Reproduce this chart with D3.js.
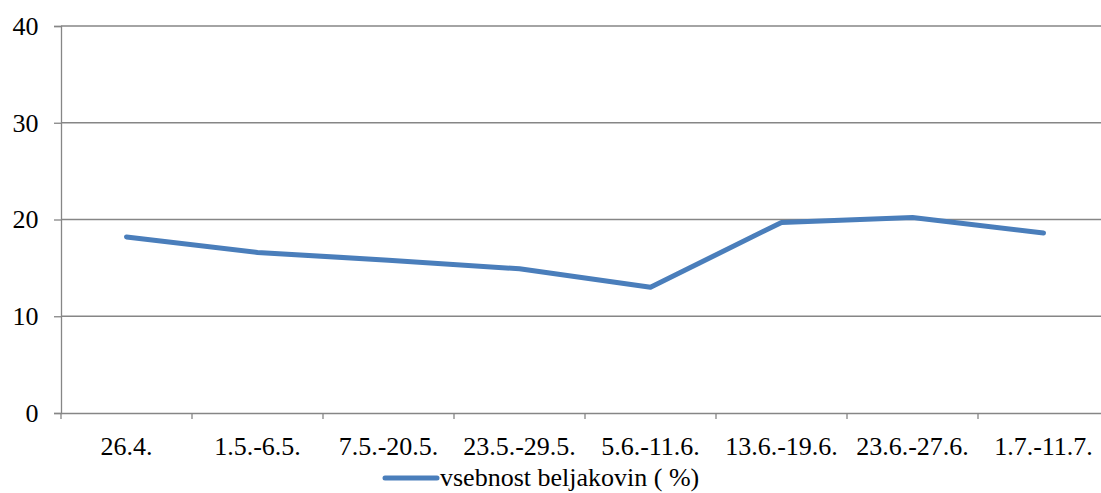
<!DOCTYPE html>
<html>
<head>
<meta charset="utf-8">
<script src="https://cdn.jsdelivr.net/npm/d3@7"></script>
<style>
  body { margin: 0; background: #fff; }
  svg { display: block; }
</style>
</head>
<body>
<div id="chart"></div>
<script>
// Data
const categories = ['26.4.', '1.5.-6.5.', '7.5.-20.5.', '23.5.-29.5.', '5.6.-11.6.', '13.6.-19.6.', '23.6.-27.6.', '1.7.-11.7.'];
const proteinValues = [18.2, 16.6, 15.8, 14.9, 13.0, 19.7, 20.2, 18.6];
const yTicks = [0, 10, 20, 30, 40];
const seriesName = 'vsebnost beljakovin ( %)';

const W = 1101, H = 493;
const margin = { top: 26, left: 61 };
const plotRight = 1109; // plot area runs past the window edge
const plotBottom = 413;
const FONT = '"Liberation Serif"';
const FONT_SIZE = '26px';

const svg = d3.select('#chart')
    .append('svg')
    .attr('width', W)
    .attr('height', H);

const x = d3.scaleBand()
    .domain(categories)
    .range([margin.left, plotRight]);

const y = d3.scaleLinear()
    .domain([0, 40])
    .range([plotBottom, margin.top]);

const gridColor = '#868686';

// Horizontal gridlines
svg.append('g')
    .selectAll('line')
    .data(yTicks.filter(d => d > 0))
    .enter()
    .append('line')
    .attr('x1', margin.left)
    .attr('x2', plotRight)
    .attr('y1', d => y(d))
    .attr('y2', d => y(d))
    .attr('stroke', gridColor)
    .attr('stroke-width', 1.3);

// Y axis
const yAxis = svg.append('g')
    .attr('transform', `translate(${margin.left},0)`)
    .call(d3.axisLeft(y).tickValues(yTicks).tickSize(7).tickPadding(15.5));
yAxis.select('.domain').attr('stroke', gridColor).attr('stroke-width', 1.3);
yAxis.selectAll('.tick line').attr('stroke', gridColor).attr('stroke-width', 1.3);
yAxis.selectAll('.tick text')
    .attr('fill', '#000')
    .style('font-family', FONT)
    .style('font-size', FONT_SIZE);

// X axis
const xAxis = svg.append('g')
    .attr('transform', `translate(0,${plotBottom})`)
    .call(d3.axisBottom(x).tickSize(0).tickPadding(23.5));
xAxis.select('.domain').attr('stroke', gridColor).attr('stroke-width', 1.3);
xAxis.selectAll('.tick text')
    .attr('fill', '#000')
    .style('font-family', FONT)
    .style('font-size', FONT_SIZE);

// Category boundary ticks
const bounds = categories.map(c => x(c)).concat([x(categories[categories.length - 1]) + x.bandwidth()]);
svg.append('g')
    .selectAll('line')
    .data(bounds)
    .enter()
    .append('line')
    .attr('x1', d => d)
    .attr('x2', d => d)
    .attr('y1', plotBottom)
    .attr('y2', plotBottom + 6)
    .attr('stroke', gridColor)
    .attr('stroke-width', 1.3);

// Series line
const line = d3.line()
    .x((d, i) => x(categories[i]) + x.bandwidth() / 2)
    .y(d => y(d));

svg.append('path')
    .datum(proteinValues)
    .attr('d', line)
    .attr('fill', 'none')
    .attr('stroke', '#4a7ebb')
    .attr('stroke-width', 5)
    .attr('stroke-linecap', 'round')
    .attr('stroke-linejoin', 'round');

// Legend
const legend = svg.append('g').attr('transform', 'translate(383,478)');
legend.append('line')
    .attr('x1', 2)
    .attr('x2', 54)
    .attr('y1', 0)
    .attr('y2', 0)
    .attr('stroke', '#4a7ebb')
    .attr('stroke-width', 5)
    .attr('stroke-linecap', 'round');
legend.append('text')
    .attr('x', 57)
    .attr('y', 8)
    .style('font-family', FONT)
    .style('font-size', FONT_SIZE)
    .text(seriesName);
</script>
</body>
</html>
